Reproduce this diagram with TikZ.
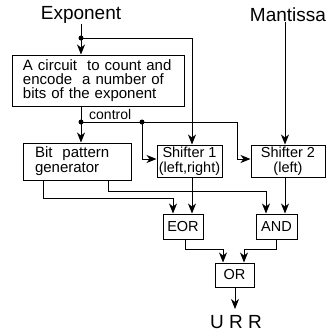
\documentclass[tikz,border=0pt]{standalone}
\usepackage{fontspec}
\setmainfont{Liberation Sans}
\usetikzlibrary{arrows.meta}
\begin{document}
\begin{tikzpicture}[x=1pt,y=-1pt,
  box/.style={draw,line width=1pt,inner sep=0pt,align=center},
  lbl/.style={font=\fontsize{19}{21}\selectfont,inner sep=0pt},
  arr/.style={-{Stealth[length=10pt,width=8pt,inset=3pt]}},
  wire/.style={line width=1pt},
  dot/.style={circle,fill,inner sep=0pt,minimum size=5pt}]
\useasboundingbox (0,0) rectangle (331,333);
% labels
\node[lbl] (exp) at (81,15) {Exponent};
\node[lbl] (man) at (288,15) {Mantissa};
\node[lbl] (urr) at (236,322) {U R R};
% boxes
\node[box,minimum width=172pt,minimum height=51pt,text width=150pt,align=left,
  font=\fontsize{15}{14.3}\selectfont] (circ) at (98,80.5)
  {A circuit\ \ to count and\\encode\ \ a number of\\bits of the exponent};
\node[box,minimum width=108pt,minimum height=37pt,text width=84pt,align=left,
  font=\fontsize{15}{15}\selectfont] (bpg) at (77,161.5) {Bit\ \ pattern\\generator};
\node[box,minimum width=65pt,minimum height=32pt,
  font=\fontsize{14.5}{14.5}\selectfont] (sh1) at (189.5,161) {Shifter 1\\(left,right)};
\node[box,minimum width=74pt,minimum height=32pt,
  font=\fontsize{14.5}{14.5}\selectfont] (sh2) at (288,161) {Shifter 2\\(left)};
\node[box,minimum width=40pt,minimum height=25pt,
  font=\fontsize{14.5}{15}\selectfont] (eor) at (183,226.5) {EOR};
\node[box,minimum width=41pt,minimum height=25pt,
  font=\fontsize{14.5}{15}\selectfont] (and) at (276.5,226.5) {AND};
\node[box,minimum width=39pt,minimum height=24pt,
  font=\fontsize{14.5}{15}\selectfont] (or) at (234.5,275) {OR};
% junctions
\node[dot] (j1) at (81,38) {};
\node[dot] (j2) at (81,122) {};
\node[dot] (j3) at (142,122) {};
\coordinate (uend) at (235,309);
\node[font=\fontsize{14}{15}\selectfont,inner sep=0pt,anchor=south west] (ctl) at (89,120) {control};
% wires
\begin{scope}[wire]
\draw[arr] (exp.south) -- (exp.south |- circ.north);
\draw[arr] (j1.center) -- (192,38) -- (192,0 |- sh1.north);
\draw[arr] (81,0 |- circ.south) -- (81,0 |- bpg.north);
\draw (j2.center) -- (j3.center);
\draw[arr] (j3.center) -- (237,122) -- (237,159) -- (237,159 -| sh2.west);
\draw[arr] (j3.center) -- (142,159) -- (142,159 -| sh1.west);
\draw[arr] (285,0 |- man.south) -- (285,0 |- sh2.north);
\draw[arr] (192,0 |- sh1.south) -- (192,0 |- eor.north);
\draw[arr] (285,0 |- sh2.south) -- (285,0 |- and.north);
\draw[arr] (43,0 |- bpg.south) -- (43,198) -- (173,198) -- (173,0 |- eor.north);
\draw[arr] (108,0 |- bpg.south) -- (108,191) -- (266,191) -- (266,0 |- and.north);
\draw[arr] (185,0 |- eor.south) -- (185,249) -- (223,249) -- (223,0 |- or.north);
\draw[arr] (276,0 |- and.south) -- (276,249) -- (244,249) -- (244,0 |- or.north);
\draw[arr] (235,0 |- or.south) -- (uend);
\end{scope}
\end{tikzpicture}
\end{document}
